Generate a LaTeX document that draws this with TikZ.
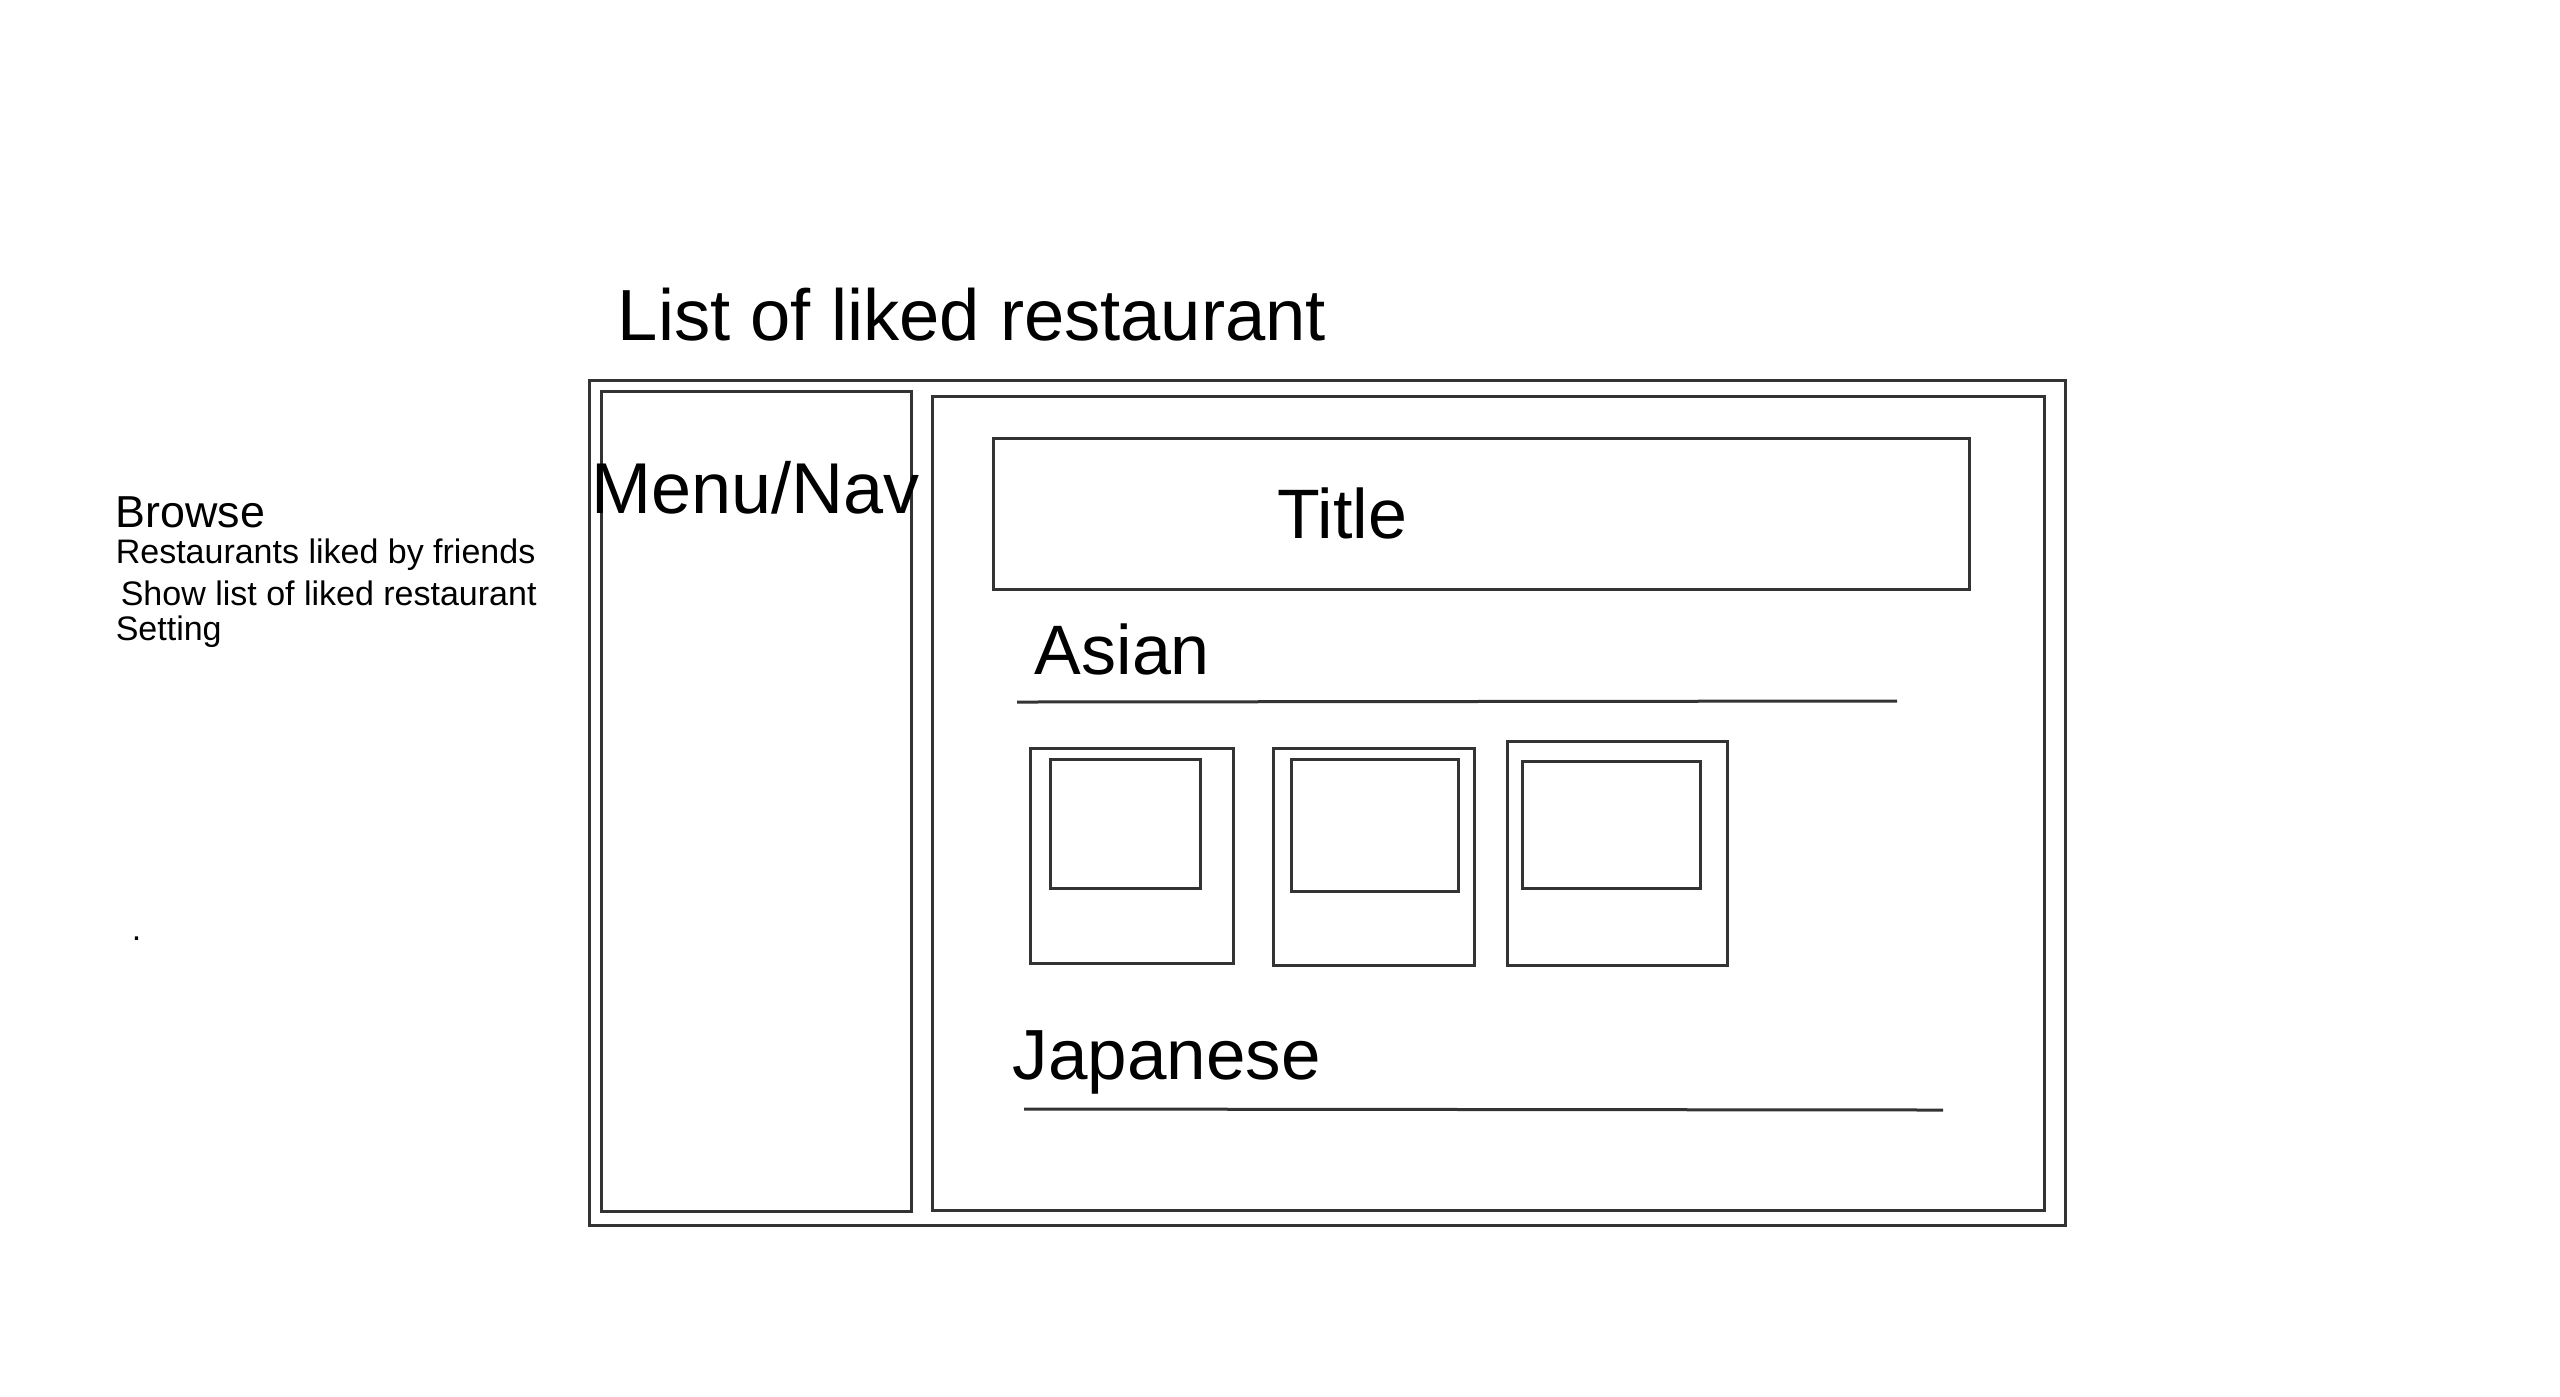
\documentclass[tikz,border=0pt]{standalone}
\usepackage{fontspec}
\setmainfont{Liberation Sans}
\begin{document}
\begin{tikzpicture}[x=0.25pt, y=-0.25pt,
    box/.style={draw=black!80, line width=0.75pt},
    lbl/.style={anchor=base west, inner sep=0pt}]
\useasboundingbox (0,0) rectangle (2560,1396);
% page frame
\draw[box](589,380) rectangle (2065,1225);
\draw[box](601,391) rectangle (911,1211);
\draw[box](932,396) rectangle (2044,1210);
\draw[box](993,438) rectangle (1969,589);
% headings
\node[lbl, font=\fontsize{18.1}{20}\selectfont] (heading) at (617,340) {List of liked restaurant};
\node[lbl, font=\fontsize{18}{20}\selectfont] (menu) at (591,513) {Menu/Nav};
\node[lbl, font=\fontsize{17.5}{20}\selectfont] (title) at (1277,538) {Title};
\node[lbl, font=\fontsize{17.5}{20}\selectfont] (asian) at (1034,674) {Asian};
\node[lbl, font=\fontsize{17.75}{20}\selectfont] (japanese) at (1012,1079) {Japanese};
\draw[box](1017,702)--(1897,701);
\draw[box](1024,1109)--(1943,1110);
% cards
\foreach \xa/\ya/\xb/\yb/\xc/\yc/\xd/\yd in
  {1030/748/1233/963/1050/759/1200/888,
   1273/748/1474/965/1291/759/1458/891,
   1507/741/1727/965/1522/761/1700/888}
{
    \draw[box](\xa,\ya) rectangle (\xb,\yb);
    \draw[box](\xc,\yc) rectangle (\xd,\yd);
}
% side notes
\node[lbl, font=\fontsize{11.2}{13}\selectfont] (browse) at (115,527) {Browse};
\node[lbl, font=\fontsize{8.5}{10}\selectfont] (friends) at (115,563) {Restaurants liked by friends};
\node[lbl, font=\fontsize{8.5}{10}\selectfont] (liked) at (120,605) {Show list of liked restaurant};
\node[lbl, font=\fontsize{8.5}{10}\selectfont] (setting) at (115,640) {Setting};
\node[lbl, font=\fontsize{8.5}{10}\selectfont] (dot) at (131,940) {.};
\end{tikzpicture}
\end{document}
